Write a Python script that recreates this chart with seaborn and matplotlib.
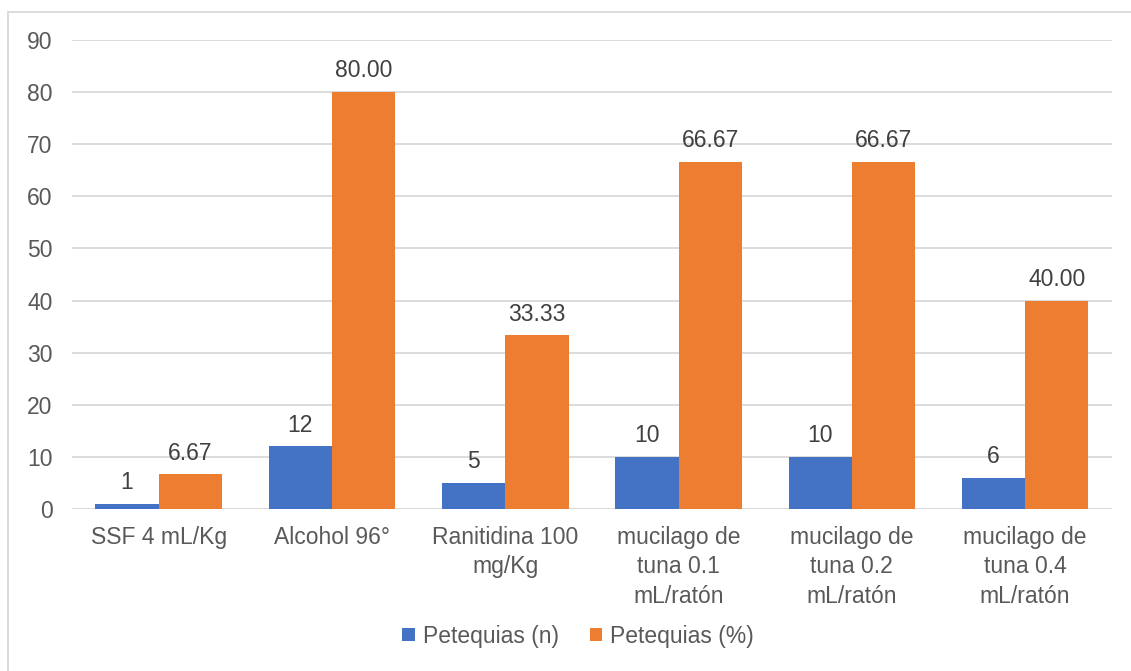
import matplotlib
matplotlib.use("Agg")
import matplotlib.pyplot as plt
from matplotlib.patches import Rectangle
import seaborn as sns
import pandas as pd

categories = [
    "SSF 4 mL/Kg",
    "Alcohol 96°",
    "Ranitidina 100\nmg/Kg",
    "mucilago de\ntuna 0.1\nmL/ratón",
    "mucilago de\ntuna 0.2\nmL/ratón",
    "mucilago de\ntuna 0.4\nmL/ratón",
]
petequias_n = [1, 12, 5, 10, 10, 6]
petequias_pct = [6.67, 80.00, 33.33, 66.67, 66.67, 40.00]
series_names = ["Petequias (n)", "Petequias (%)"]
y_ticks = [0, 10, 20, 30, 40, 50, 60, 70, 80, 90]

df = pd.DataFrame({
    "Grupo": categories * 2,
    "Serie": [series_names[0]] * len(categories) + [series_names[1]] * len(categories),
    "Valor": petequias_n + petequias_pct,
})

sns.set_theme(style="white")
plt.rcParams["font.family"] = ["Liberation Sans", "DejaVu Sans"]

text_color = "#595959"
grid_color = "#D9D9D9"
fs = 16.5
palette = {series_names[0]: "#4472C4", series_names[1]: "#ED7D31"}

fig = plt.figure(figsize=(11.31, 6.71), dpi=100)
ax = fig.add_axes([0.0637, 0.2414, 0.9193, 0.699])

sns.barplot(data=df, x="Grupo", y="Valor", hue="Serie", palette=palette,
            width=0.73, gap=0, saturation=1, linewidth=0, ax=ax, legend=True)

ax.set_ylim(0, 90)
ax.set_yticks(y_ticks)
ax.set_xlim(-0.5, len(categories) - 0.5)
ax.yaxis.grid(True, color=grid_color, linewidth=1.3)
ax.set_axisbelow(True)
for s in ax.spines.values():
    s.set_visible(False)
ax.axhline(0, color=grid_color, linewidth=1.3, zorder=0.5)

ax.set_xlabel("")
ax.set_ylabel("")
ax.tick_params(axis="y", length=0, labelsize=fs, labelcolor=text_color, pad=14)
ax.tick_params(axis="x", length=0, labelsize=fs, labelcolor=text_color, pad=12)
for lbl in ax.get_xticklabels():
    lbl.set_linespacing(1.36)
    lbl.set_verticalalignment("top")

labels_n = [f"{v:d}" for v in petequias_n]
labels_pct = [f"{v:.2f}" for v in petequias_pct]
ax.bar_label(ax.containers[0], labels=labels_n, padding=7,
             fontsize=fs, color="#404040")
ax.bar_label(ax.containers[1], labels=labels_pct, padding=7,
             fontsize=fs, color="#404040")

leg = ax.legend(loc="center", bbox_to_anchor=(0.511, 0.052), bbox_transform=fig.transFigure,
                ncol=2, frameon=False, fontsize=fs, handlelength=0.55,
                handleheight=0.55, handletextpad=0.35, columnspacing=1.35)
for t in leg.get_texts():
    t.set_color(text_color)

fig.patches.append(Rectangle((8 / 1131, -0.05), 1.2, 1 - 12 / 671 + 0.05,
                             transform=fig.transFigure, fill=False,
                             edgecolor=grid_color, linewidth=1.3, zorder=-1))

fig.savefig("out.png", dpi=100)
